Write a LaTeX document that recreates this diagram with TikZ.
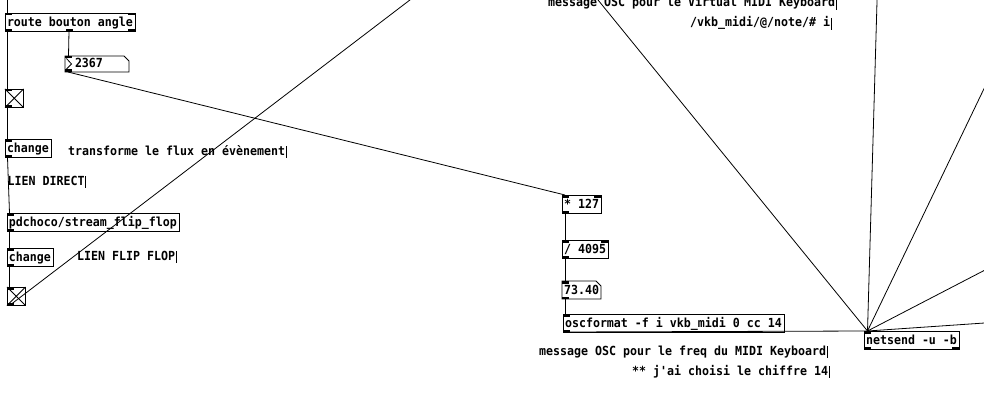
\documentclass[tikz,border=0pt]{standalone}
\usepackage{fontspec}
\setmonofont{DejaVu Sans Mono}[FakeStretch=0.93]
\newcommand{\pdfont}{\fontsize{12.5}{14}\selectfont\ttfamily\bfseries}
\newcommand{\pdin}[2][0pt]{\fill ([xshift=#1]#2.north west) rectangle ++(7,2.5);}
\newcommand{\pdinr}[1]{\fill (#1.north east) rectangle ++(-7,2.5);}
\newcommand{\pdout}[2][0pt]{\fill ([xshift=#1]#2.south west) rectangle ++(7,-2.5);}
\newcommand{\pdoutr}[1]{\fill (#1.south east) rectangle ++(-7,-2.5);}
\newcommand{\pdbar}[1]{\draw[line width=0.8pt] ([xshift=0.8pt]#1.north east) -- ([xshift=0.8pt]#1.south east);}
\begin{document}
\begin{tikzpicture}[x=1pt,y=-1pt,
  obj/.style={draw=black, line width=0.9pt, anchor=north west, inner xsep=2pt, inner ysep=0pt, outer sep=0pt, minimum height=18.5pt, text height=10.2pt, text depth=1pt, font=\pdfont},
  num/.style={obj, draw=none},
  tog/.style={draw=black, line width=0.9pt, anchor=north west, minimum size=18.5pt, inner sep=0pt, outer sep=0pt},
  com/.style={anchor=base west, inner sep=0pt, text height=8.8pt, text depth=2.5pt, font=\pdfont},
  wire/.style={line width=0.8pt, draw=black}
]
\path[use as bounding box] (0,0) rectangle (984,417);
\clip (0,0) rectangle (984,417);
\fill[white] (0,0) rectangle (984,417);

% left column
\node[obj] (route) at (5,13) {route bouton angle};
\node[num, minimum height=16pt, text height=8.6pt, text width=54pt, inner xsep=5pt, align=left] (n2367) at (65,56) {\hspace*{5pt}2367};
\node[tog] (tg1) at (5,89) {};
\node[obj] (ch1) at (5,139) {change};
\node[obj] (flip) at (7,213) {pdchoco/stream\_flip\_flop};
\node[obj] (ch2) at (7,248) {change};
\node[tog] (tg2) at (7,287) {};

% right column
\node[obj] (mul) at (562,195) {* 127};
\node[obj] (div) at (562,240) {/ 4095};
\node[num, minimum height=18pt] (n7340) at (562,281) {73.40};
\node[obj, minimum height=18pt] (osc) at (563,314) {oscformat -f i vkb\_midi 0 cc 14};
\node[obj, minimum height=18pt] (net) at (864,331) {netsend -u -b};

% number box outlines
\foreach \n in {n2367,n7340}{
  \draw[line width=0.9pt] (\n.south west) -- (\n.north west) -- ([xshift=-5pt]\n.north east) -- ([yshift=-5pt]\n.north east) -- (\n.south east) -- cycle;
}
\draw[line width=0.8pt] ([xshift=1.5pt,yshift=-2.5pt]n2367.north west) -- ([xshift=6.5pt]n2367.west) -- ([xshift=1.5pt,yshift=3pt]n2367.south west);

% toggles
\foreach \t in {tg1,tg2}{
  \draw[line width=0.8pt] (\t.north west) -- (\t.south east) (\t.north east) -- (\t.south west);
}

% iolets
\pdin{route} \pdinr{route} \pdout{route} \pdout[61pt]{route} \pdoutr{route}
\pdin{n2367} \pdout{n2367}
\pdin{tg1} \pdout{tg1}
\pdin{ch1} \pdout{ch1}
\pdin{flip} \pdout{flip}
\pdin{ch2} \pdout{ch2}
\pdin{tg2} \pdout{tg2}
\pdin{mul} \pdinr{mul} \pdout{mul}
\pdin{div} \pdinr{div} \pdout{div}
\pdin{n7340} \pdout{n7340}
\pdin{osc} \pdout{osc}
\pdin{net} \pdout{net} \pdoutr{net}

% comments
\node[com] (c1) at (68,155) {transforme le flux en évènement}; \pdbar{c1}
\node[com] (c2) at (7.5,185) {LIEN DIRECT}; \pdbar{c2}
\node[com] (c3) at (77,260) {LIEN FLIP FLOP}; \pdbar{c3}
\node[com] (c4) at (548,7) {message OSC pour le Virtual MIDI Keyboard}; \pdbar{c4}
\node[com] (c5) at (690,27) {/vkb\_midi/@/note/\# i}; \pdbar{c5}
\node[com] (c6) at (539,355) {message OSC pour le freq du MIDI Keyboard}; \pdbar{c6}
\node[com] (c7) at (632,375) {** j'ai choisi le chiffre 14}; \pdbar{c7}

% free ends
\coordinate (t0) at (7.5,-2);
\coordinate (t1) at (412.5,-2);
\coordinate (t2) at (596.4,-2);
\coordinate (t3) at (877.1,-2);
\coordinate (t4) at (986,84.5);
\coordinate (t5) at (986,269.5);
\coordinate (t6) at (986,322.9);

% wires
\draw[wire] (t0) -- ([xshift=2.5pt]route.north west);
\draw[wire] ([xshift=-1pt]route.south) -- ([xshift=3.5pt]n2367.north west);
\draw[wire] ([xshift=2.5pt]route.south west) -- ([xshift=2.5pt]tg1.north west);
\draw[wire] ([xshift=2.5pt]tg1.south west) -- ([xshift=2.5pt]ch1.north west);
\draw[wire] ([xshift=2.5pt]ch1.south west) -- ([xshift=2.5pt]flip.north west);
\draw[wire] ([xshift=2.5pt]flip.south west) -- ([xshift=2.5pt]ch2.north west);
\draw[wire] ([xshift=2.5pt]ch2.south west) -- ([xshift=2.5pt]tg2.north west);
\draw[wire] ([xshift=2.5pt]tg2.south west) -- (t1);
\draw[wire] ([xshift=3pt]n2367.south west) -- ([xshift=3pt]mul.north west);
\draw[wire] ([xshift=3pt]mul.south west) -- ([xshift=3pt]div.north west);
\draw[wire] ([xshift=3pt]div.south west) -- ([xshift=3pt]n7340.north west);
\draw[wire] ([xshift=3pt]n7340.south west) -- ([xshift=2pt]osc.north west);
\draw[wire] ([xshift=2pt]osc.south west) -- ([xshift=3.5pt]net.north west);
\foreach \c in {t2,t3,t4,t5,t6}{
  \draw[wire] (\c) -- ([xshift=3.5pt]net.north west);
}
\end{tikzpicture}
\end{document}
